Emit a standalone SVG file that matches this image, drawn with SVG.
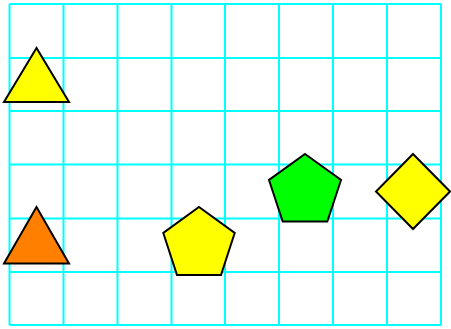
<svg xmlns="http://www.w3.org/2000/svg" width="451" height="329" viewBox="0 0 451 329">
<style>
.grid line{stroke:#00ffff;stroke-width:2}
.shape{stroke:#000;stroke-width:2;stroke-linejoin:miter}
.yellow{fill:#ffff00}
.orange{fill:#ff8000}
.green{fill:#00ff00}
</style>
<rect width="451" height="329" fill="#fff"/>
<g id="grid" class="grid">
<line x1="9.5" y1="4" x2="9.5" y2="325"/>
<line x1="63.5" y1="4" x2="63.5" y2="325"/>
<line x1="117.5" y1="4" x2="117.5" y2="325"/>
<line x1="171.5" y1="4" x2="171.5" y2="325"/>
<line x1="225" y1="4" x2="225" y2="325"/>
<line x1="279" y1="4" x2="279" y2="325"/>
<line x1="333" y1="4" x2="333" y2="325"/>
<line x1="387" y1="4" x2="387" y2="325"/>
<line x1="441" y1="4" x2="441" y2="325"/>
<line x1="9.5" y1="4" x2="441" y2="4"/>
<line x1="9.5" y1="58" x2="441" y2="58"/>
<line x1="9.5" y1="111" x2="441" y2="111"/>
<line x1="9.5" y1="164.5" x2="441" y2="164.5"/>
<line x1="9.5" y1="218.5" x2="441" y2="218.5"/>
<line x1="9.5" y1="272" x2="441" y2="272"/>
<line x1="9.5" y1="325" x2="441" y2="325"/>
</g>
<g id="triangle-yellow"><polygon class="shape yellow" points="36.5,48 4,102 69,102"/></g>
<g id="triangle-orange"><polygon class="shape orange" points="36.5,207 4,263.5 69,263.5"/></g>
<g id="pentagon-yellow"><polygon class="shape yellow" points="199,207 234.7,233 221,275 177,275 163.3,233"/></g>
<g id="pentagon-green"><polygon class="shape green" points="305,154 341,180 327.3,221.5 282.7,221.5 269,180"/></g>
<g id="diamond-yellow"><polygon class="shape yellow" points="413,154 450,191.5 413,229 376,191.5"/></g>
<g id="connectors"></g>
</svg>
